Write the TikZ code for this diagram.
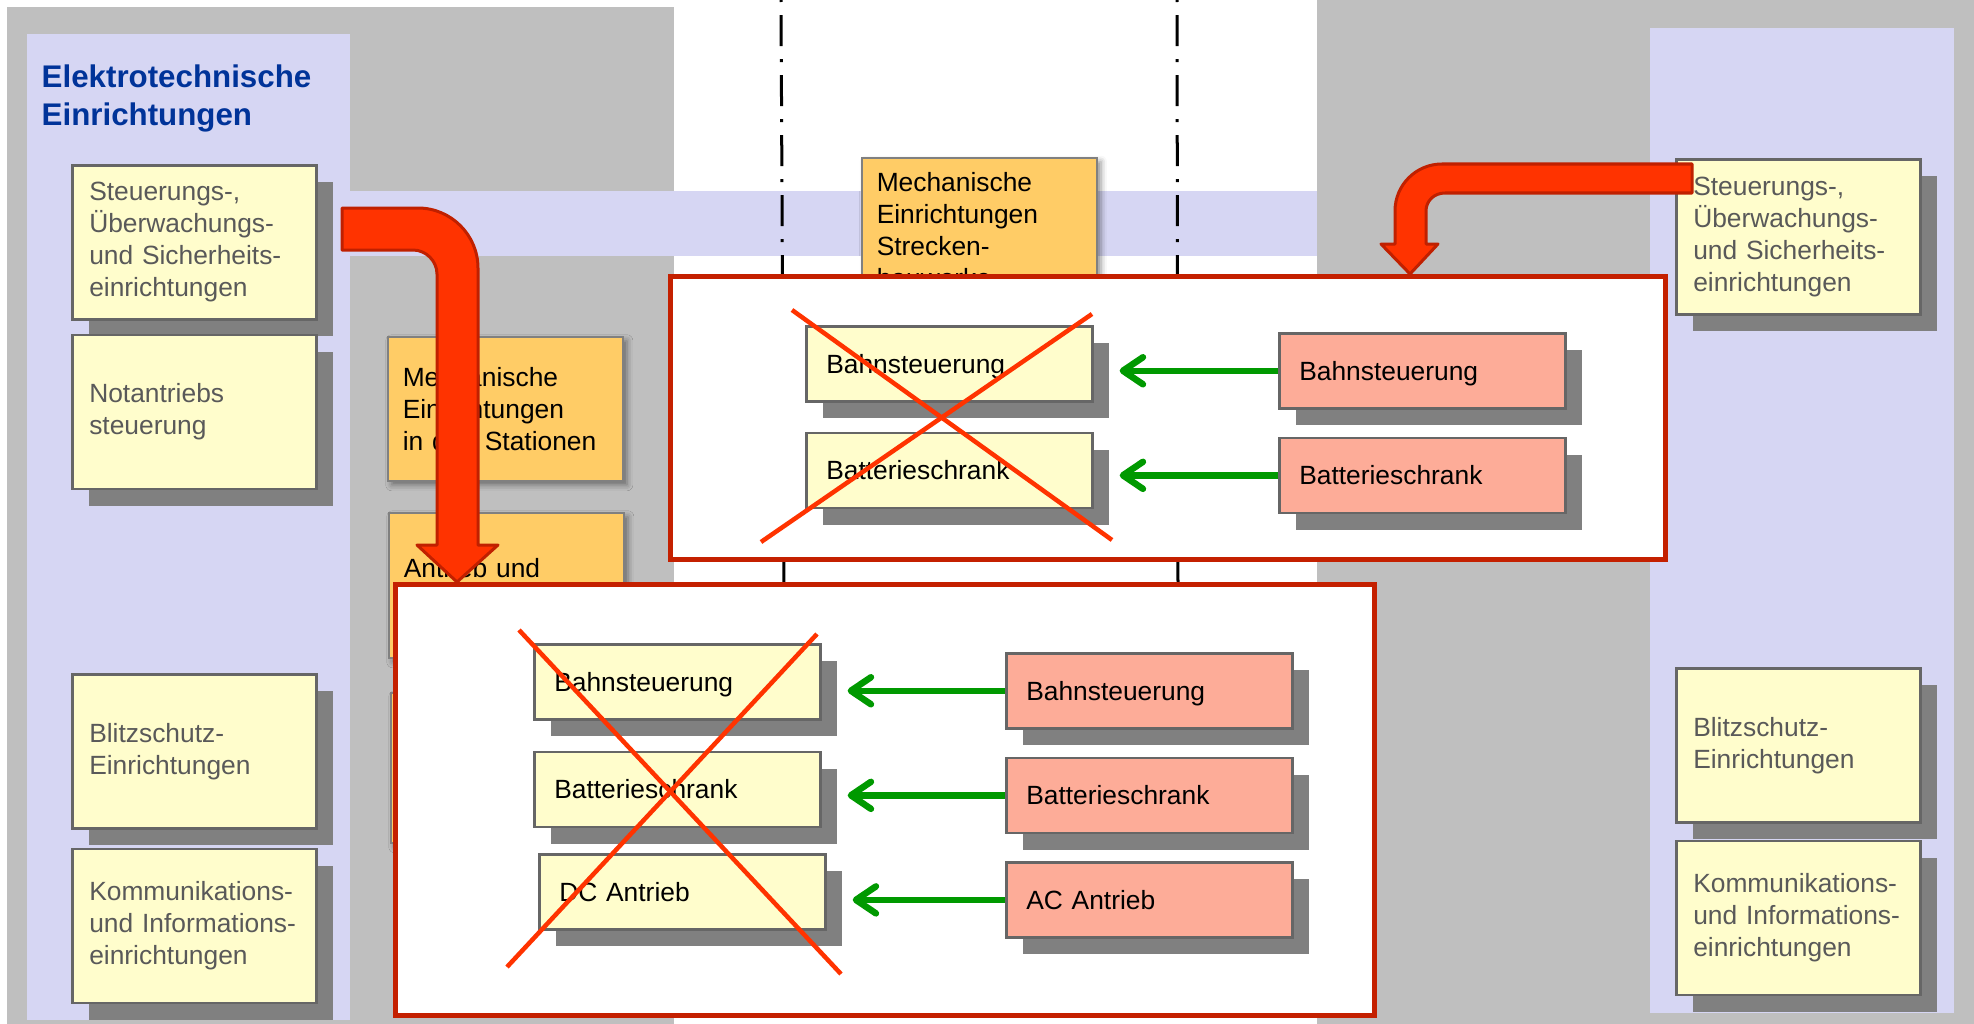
\documentclass[tikz,border=0pt]{standalone}
\usepackage{fontspec}
\setmainfont{Liberation Sans}
\usetikzlibrary{arrows.meta, positioning, shadows, shadows.blur}
\definecolor{panelgray}{RGB}{191,191,191}
\definecolor{lavender}{RGB}{214,214,243}
\definecolor{noteyellow}{RGB}{255,253,204}
\definecolor{notegray}{RGB}{89,89,89}
\definecolor{edgegray}{RGB}{102,102,102}
\definecolor{shadegray}{RGB}{128,128,128}
\definecolor{mechorange}{RGB}{255,204,102}
\definecolor{salmon}{RGB}{253,172,152}
\definecolor{framered}{RGB}{196,32,0}
\definecolor{bendred}{RGB}{255,51,0}
\definecolor{benddark}{RGB}{192,32,0}
\definecolor{crossred}{RGB}{255,51,0}
\definecolor{feedgreen}{RGB}{0,153,0}
\definecolor{titleblue}{RGB}{0,51,153}

\begin{document}
\begin{tikzpicture}[x=0.01cm, y=-0.01cm, >={Straight Barb[length=0.2cm,width=0.27cm,round]}]
      \tikzstyle{infobox}=[rectangle, anchor=north west, draw=edgegray, line width=0.025cm, fill=noteyellow, text=notegray, font=\fontsize{7.5}{9.1}\selectfont, align=left, text width=2.1cm, inner xsep=0.17cm, minimum height=1.54cm, drop shadow={shadow xshift=0.17cm, shadow yshift=-0.17cm, fill=shadegray, opacity=1}]
      \tikzstyle{mechbox}=[rectangle, anchor=north west, draw=shadegray, line width=0.015cm, fill=mechorange, text=black, font=\fontsize{7.5}{9.1}\selectfont, align=left, text width=2.05cm, inner xsep=0.15cm, blur shadow={shadow xshift=0.04cm, shadow yshift=-0.04cm, shadow blur radius=0.06cm, shadow opacity=45}]
      \tikzstyle{itembox}=[rectangle, anchor=north west, draw=edgegray, line width=0.025cm, text=black, font=\fontsize{7.5}{9.1}\selectfont, align=left, text width=2.46cm, inner xsep=0.2cm, minimum height=0.75cm, text height=0.24cm, text depth=0.05cm, drop shadow={shadow xshift=0.17cm, shadow yshift=-0.17cm, fill=shadegray, opacity=1}]
      \tikzstyle{oldpart}=[itembox, fill=noteyellow]
      \tikzstyle{newpart}=[itembox, fill=salmon]
      \tikzstyle{swapframe}=[draw=framered, line width=0.05cm, fill=white]
      \tikzstyle{strike}=[draw=crossred, line width=0.045cm]
      \tikzstyle{feed}=[->, draw=feedgreen, line width=0.065cm, shorten >=0.26cm]
      \tikzstyle{bentarrow}=[fill=bendred, draw=benddark, line width=0.03cm, line join=round]
      \tikzstyle{trackline}=[black, line width=0.03cm, dash pattern=on 0.31cm off 0.13cm on 0.03cm off 0.13cm, dash phase=0.45cm]
      \useasboundingbox (0,0) rectangle (1974,1024);
      \fill[panelgray] (7,7) rectangle (674,1024);
      \fill[panelgray] (1317,0) rectangle (1974,1024);
      \fill[lavender] (27,34) rectangle (350,1020);
      \fill[lavender] (1650,28) rectangle (1954,1013);
      \fill[lavender] (350,191) rectangle (1317,256);
      \draw[trackline] (781,0) -- (784,583);
      \draw[trackline] (1177,0) -- (1178,583);
      \node[anchor=north west, inner sep=0pt, align=left, text=titleblue, font=\fontsize{8.9}{10.8}\selectfont\bfseries] (title) at (41,64) {Elektrotechnische\\Einrichtungen};
      \node[infobox] (lsteu) at (71,164) {Steuerungs-,\\Überwachungs-\\und Sicherheits-\\einrichtungen};
      \node[infobox, below=0.13cm of lsteu] (lnot) {Notantriebs\\steuerung};
      \node[infobox] (lblitz) at (71,673) {Blitzschutz-\\Einrichtungen};
      \node[infobox, below=0.18cm of lblitz] (lkomm) {Kommunikations-\\und Informations-\\einrichtungen};
      \node[infobox, minimum height=1.55cm] (rsteu) at (1675,158) {Steuerungs-,\\Überwachungs-\\und Sicherheits-\\einrichtungen};
      \node[infobox] (rblitz) at (1675,667) {Blitzschutz-\\Einrichtungen};
      \node[infobox, below=0.16cm of rblitz] (rkomm) {Kommunikations-\\und Informations-\\einrichtungen};
      \node[mechbox, minimum height=1.44cm] (mstat) at (387,336) {Mechanische\\Einrichtungen\\in den Stationen};
      \node[mechbox, inner ysep=0pt, text height=0.65cm, text depth=0.8cm] (mantr) at (388,512) {Antrieb und};
      \node[mechbox, minimum height=1.5cm] (mthird) at (390,692) {};
      \node[mechbox, inner ysep=0.145cm] (mstreck) at (861,157) {Mechanische\\Einrichtungen\\Strecken-\\bauwerke};
      \draw[swapframe] (670.5,276.5) rectangle (1665.5,559.5);
      \draw[swapframe] (395.5,584.5) rectangle (1374.5,1015.5);
      \node[oldpart] (obahn1) at (805,325) {Bahnsteuerung};
      \node[oldpart, below=0.29cm of obahn1] (obatt1) {Batterieschrank};
      \node[newpart] (nbahn1) at (1278,332) {Bahnsteuerung};
      \node[newpart, below=0.27cm of nbahn1] (nbatt1) {Batterieschrank};
      \node[oldpart] (obahn2) at (533,643) {Bahnsteuerung};
      \node[oldpart, below=0.3cm of obahn2] (obatt2) {Batterieschrank};
      \node[oldpart, below=0.25cm of obatt2, xshift=0.05cm] (odc) {DC Antrieb};
      \node[newpart] (nbahn2) at (1005,652) {Bahnsteuerung};
      \node[newpart, below=0.27cm of nbahn2] (nbatt2) {Batterieschrank};
      \node[newpart, below=0.27cm of nbatt2] (nac) {AC Antrieb};
      \draw[strike] (792,310) -- (1112,540);
      \draw[strike] (1092,314) -- (761,542);
      \draw[strike] (519,630) -- (841,974);
      \draw[strike] (817,634) -- (507,967);
      \draw[feed] (nbahn1.west) -- (nbahn1.west -| obahn1.east);
      \draw[feed] (nbatt1.west) -- (nbatt1.west -| obatt1.east);
      \draw[feed] (nbahn2.west) -- (nbahn2.west -| obahn2.east);
      \draw[feed] (nbatt2.west) -- (nbatt2.west -| obatt2.east);
      \draw[feed] (nac.west) -- (nac.west -| odc.east);
      \filldraw[bentarrow] (342,208) -- (418,208) .. controls (451,208) and (478,235) .. (478,268) -- (478,545) -- (498,545) -- (457,582) -- (417,545) -- (437,545) -- (437,274) .. controls (437,261) and (426,250) .. (413,250) -- (342,250) -- cycle;
      \filldraw[bentarrow] (1692,164) -- (1442,164) .. controls (1416,164) and (1395,185) .. (1395,211) -- (1395,244) -- (1381,244) -- (1410,274) -- (1438,244) -- (1426,244) -- (1426,211) .. controls (1426,201) and (1434,193) .. (1445,193) -- (1692,193) -- cycle;
    \end{tikzpicture}
\end{document}
